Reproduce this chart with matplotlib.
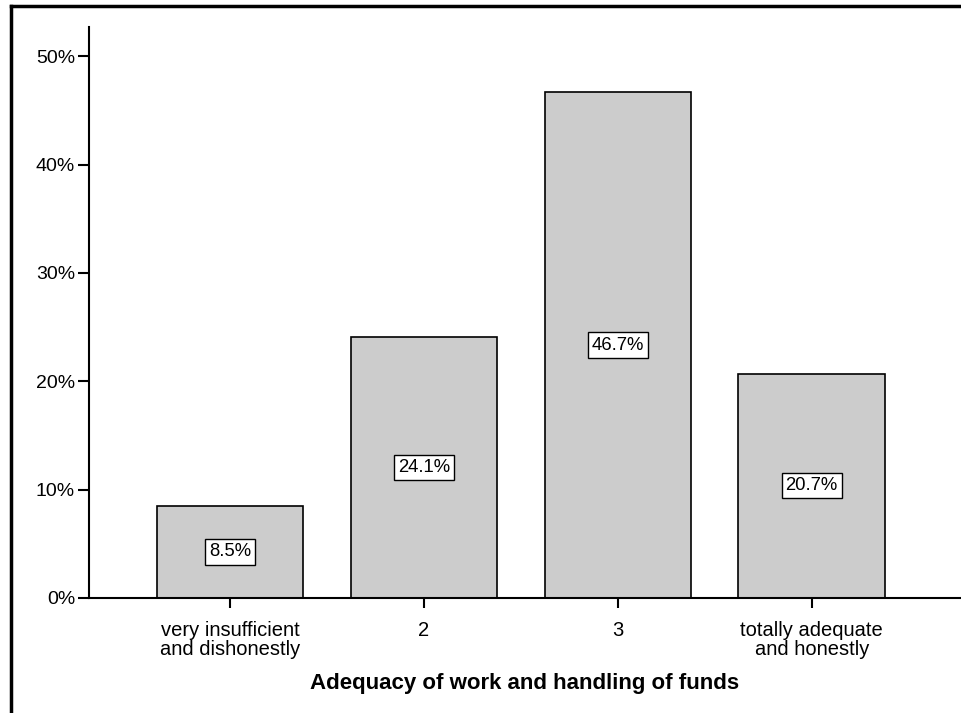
import matplotlib.pyplot as plt
from matplotlib.lines import Line2D

categories = ["very insufficient\nand dishonestly", "2", "3", "totally adequate\nand honestly"]
percents = [8.5, 24.1, 46.7, 20.7]
y_ticks = [0, 10, 20, 30, 40, 50]

plt.rcParams["font.family"] = ["Liberation Sans", "DejaVu Sans"]

fig = plt.figure(figsize=(9.61, 7.13), dpi=100)
ax = fig.add_axes([89 / 961, 1 - 598 / 713, 1 - 89 / 961, (598 - 27) / 713])

x = list(range(len(categories)))
ax.bar(x, percents, width=0.755, color="#cccccc", edgecolor="black", linewidth=1.2, zorder=2)

# value labels in boxes at bar middle
for xi, v in zip(x, percents):
    ax.text(xi, v / 2, f"{v}%", ha="center", va="center", fontsize=13.3, zorder=3,
            bbox=dict(boxstyle="square,pad=0.22", facecolor="white", edgecolor="black", linewidth=1))

ax.set_xlim(-0.727, 3.77)
ax.set_ylim(0, 52.7)
ax.set_yticks(y_ticks)
ax.set_yticklabels([f"{t}%" for t in y_ticks])
ax.set_xticks(x)
ax.set_xticklabels(categories, linespacing=1.0)

for side in ["top", "right"]:
    ax.spines[side].set_visible(False)
ax.spines["left"].set_linewidth(1.5)
ax.spines["bottom"].set_linewidth(1.5)

ax.tick_params(axis="y", direction="out", length=8, width=1.5, labelsize=14, pad=2)
ax.tick_params(axis="x", direction="out", length=7.5, width=1.5, labelsize=14.5, pad=9)
ax.set_xlabel("Adequacy of work and handling of funds", fontsize=16, fontweight="bold", labelpad=10)

# outer frame lines (top and left)
fig.add_artist(Line2D([11 / 961, 1], [1 - 6 / 713, 1 - 6 / 713], transform=fig.transFigure,
                      color="black", linewidth=2.5))
fig.add_artist(Line2D([11 / 961, 11 / 961], [0, 1 - 6 / 713], transform=fig.transFigure,
                      color="black", linewidth=2.5))

fig.savefig("out.png", dpi=100)
